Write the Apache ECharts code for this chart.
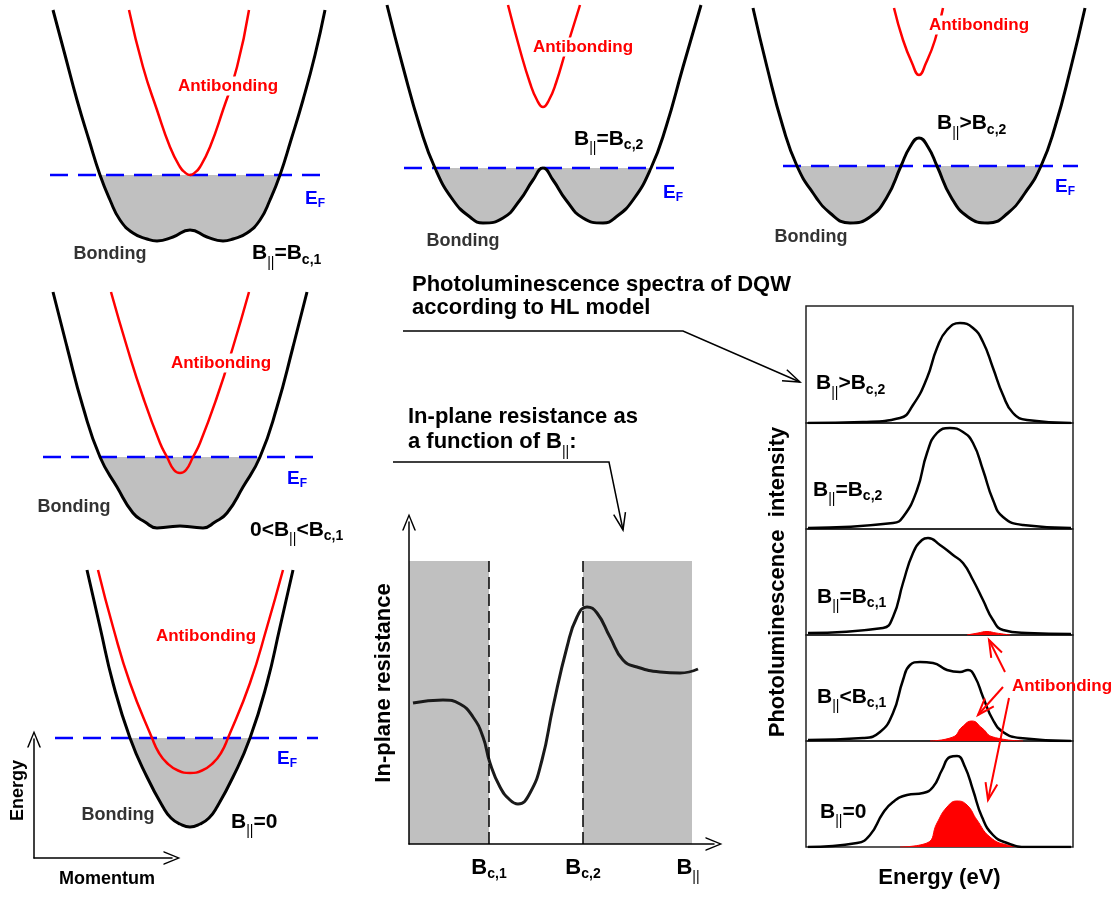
<!DOCTYPE html>
<html>
<head>
<meta charset="utf-8">
<title>Bilayer bands, in-plane resistance and PL spectra</title>
<script src="https://cdn.jsdelivr.net/npm/echarts@6.0.0/dist/echarts.min.js"></script>
<style>
  html, body { margin: 0; padding: 0; background: #fff; }
  #chart { width: 1119px; height: 897px; }
</style>
</head>
<body>
<div id="chart"></div>
<script>
// ---------- Band dispersions: [momentum, energy], arbitrary units ----------
const bondingBc1 = [[-1.37,2.50],[-1.25,2.05],[-1.13,1.60],[-1.01,1.20],[-0.90,0.85],[-0.80,0.60],[-0.70,0.40],[-0.57,0.27],[-0.43,0.21],[-0.33,0.19],[-0.17,0.23],[0,0.30],[0.17,0.23],[0.33,0.19],[0.43,0.21],[0.57,0.27],[0.70,0.40],[0.80,0.60],[0.90,0.85],[1.01,1.20],[1.13,1.60],[1.25,2.05],[1.35,2.50]];
const antibondingBc1 = [[-0.61,2.50],[-0.47,1.93],[-0.33,1.50],[-0.20,1.13],[-0.10,0.93],[-0.05,0.875],[0,0.85],[0.05,0.875],[0.10,0.93],[0.20,1.13],[0.33,1.50],[0.47,1.93],[0.59,2.50]];
const fermiBc1 = 0.85;
const fermiSpanBc1 = [-1.40, 1.38];

const bondingBc2 = [[-1.56,2.55],[-1.40,1.93],[-1.23,1.33],[-1.08,0.92],[-0.90,0.60],[-0.73,0.43],[-0.60,0.37],[-0.40,0.42],[-0.23,0.60],[-0.10,0.80],[0,0.92],[0.10,0.80],[0.23,0.60],[0.40,0.42],[0.60,0.37],[0.73,0.43],[0.90,0.60],[1.08,0.92],[1.23,1.33],[1.40,1.93],[1.58,2.55]];
const antibondingBc2 = [[-0.35,2.55],[-0.23,2.10],[-0.13,1.77],[-0.06,1.60],[0,1.53],[0.06,1.60],[0.13,1.77],[0.23,2.10],[0.37,2.55]];
const fermiBc2 = 0.92;
const fermiSpanBc2 = [-1.39, 1.40];

const bondingAboveBc2 = [[-1.66,2.52],[-1.52,1.93],[-1.36,1.33],[-1.22,0.94],[-1.06,0.67],[-0.89,0.47],[-0.69,0.37],[-0.49,0.43],[-0.32,0.63],[-0.18,0.94],[-0.09,1.13],[0,1.22],[0.09,1.13],[0.18,0.94],[0.32,0.63],[0.49,0.43],[0.69,0.37],[0.89,0.47],[1.06,0.67],[1.22,0.94],[1.36,1.33],[1.52,1.93],[1.66,2.52]];
const antibondingAboveBc2 = [[-0.25,2.52],[-0.16,2.20],[-0.07,1.97],[0,1.85],[0.07,1.97],[0.16,2.20],[0.24,2.52]];
const fermiAboveBc2 = 0.94;
const fermiSpanAboveBc2 = [-1.36, 1.59];

const bondingBelowBc1 = [[-1.27,2.48],[-1.13,1.93],[-0.97,1.33],[-0.80,0.83],[-0.63,0.53],[-0.47,0.27],[-0.35,0.18],[-0.23,0.12],[-0.12,0.13],[0,0.14],[0.12,0.13],[0.23,0.12],[0.35,0.18],[0.47,0.27],[0.63,0.53],[0.80,0.83],[0.97,1.33],[1.13,1.93],[1.27,2.48]];
const antibondingBelowBc1 = [[-0.69,2.48],[-0.53,1.93],[-0.37,1.43],[-0.20,0.97],[-0.13,0.83],[-0.06,0.70],[0,0.67],[0.06,0.70],[0.13,0.83],[0.20,0.97],[0.37,1.43],[0.53,1.93],[0.69,2.48]];
const fermiBelowBc1 = 0.83;
const fermiSpanBelowBc1 = [-1.37, 1.43];

const bondingZero = [[-1.03,2.70],[-0.90,2.13],[-0.77,1.57],[-0.60,1.02],[-0.43,0.63],[-0.27,0.33],[-0.19,0.22],[-0.10,0.16],[0,0.13],[0.10,0.16],[0.19,0.22],[0.27,0.33],[0.43,0.63],[0.60,1.02],[0.77,1.57],[0.90,2.13],[1.03,2.70]];
const antibondingZero = [[-0.92,2.70],[-0.77,2.13],[-0.60,1.57],[-0.38,1.02],[-0.31,0.87],[-0.23,0.77],[-0.12,0.695],[0,0.67],[0.12,0.695],[0.23,0.77],[0.31,0.87],[0.38,1.02],[0.60,1.57],[0.77,2.13],[0.93,2.70]];
const fermiZero = 1.02;
const fermiSpanZero = [-1.35, 1.28];

// ---------- In-plane resistance vs parallel field: [B, R] ----------
const resistance = [[0.04,1.41],[0.34,1.44],[0.51,1.40],[0.64,1.27],[0.74,1.07],[0.81,0.81],[0.91,0.57],[1.01,0.44],[1.09,0.40],[1.21,0.51],[1.33,0.84],[1.44,1.37],[1.58,1.97],[1.68,2.27],[1.78,2.37],[1.88,2.31],[2.01,2.07],[2.14,1.84],[2.28,1.77],[2.51,1.72],[2.71,1.71],[2.89,1.75]];
const criticalFields = [0.80, 1.74];
const shadedFieldRanges = [[0, 0.80], [1.74, 2.83]];
const shadeTop = 2.83;
const fieldTickValues = [0.80, 1.74, 2.79];
const fieldTickLabels = ['{b|B}{s|c,1}', '{b|B}{s|c,2}', '{b|B}{p|||}'];

// ---------- PL spectra: [energy, intensity], arbitrary units ----------
const plAboveBc2 = [[0.02,0.00],[0.57,0.01],[0.94,0.05],[1.07,0.18],[1.21,0.45],[1.31,0.75],[1.41,0.93],[1.54,1.00],[1.67,0.95],[1.77,0.81],[1.87,0.55],[1.97,0.28],[2.07,0.10],[2.21,0.03],[2.65,0.00]];
const plAtBc2 = [[0.02,0.01],[0.87,0.06],[0.97,0.12],[1.11,0.39],[1.21,0.76],[1.31,0.96],[1.44,1.01],[1.57,0.97],[1.67,0.86],[1.77,0.59],[1.87,0.29],[1.97,0.12],[2.17,0.04],[2.65,0.01]];
const plAtBc1 = [[0.02,0.02],[0.77,0.07],[0.87,0.18],[0.97,0.52],[1.07,0.82],[1.16,0.95],[1.22,0.97],[1.34,0.90],[1.47,0.80],[1.57,0.72],[1.67,0.55],[1.77,0.35],[1.87,0.15],[1.97,0.05],[2.21,0.02],[2.65,0.01]];
const plAtBc1Anti = [[1.61,0],[1.72,0.02],[1.81,0.035],[1.90,0.02],[2.04,0]];
const plBelowBc1 = [[0.02,0.01],[0.57,0.03],[0.74,0.09],[0.87,0.28],[0.97,0.61],[1.04,0.76],[1.14,0.79],[1.27,0.78],[1.41,0.71],[1.54,0.69],[1.62,0.71],[1.69,0.64],[1.77,0.44],[1.87,0.21],[1.97,0.09],[2.14,0.03],[2.65,0.00]];
const plBelowBc1Anti = [[1.24,0],[1.47,0.04],[1.56,0.14],[1.66,0.20],[1.76,0.13],[1.87,0.04],[2.17,0]];
const plZero = [[0.02,0.00],[0.51,0.04],[0.64,0.12],[0.77,0.34],[0.87,0.45],[1.01,0.52],[1.17,0.54],[1.27,0.60],[1.36,0.77],[1.44,0.90],[1.51,0.91],[1.59,0.80],[1.67,0.57],[1.76,0.30],[1.87,0.12],[2.01,0.04],[2.21,0.00],[2.65,0.00]];
const plZeroAnti = [[0.94,0],[1.21,0.04],[1.31,0.24],[1.41,0.40],[1.51,0.46],[1.61,0.42],[1.71,0.27],[1.84,0.10],[2.01,0.02],[2.17,0]];

// ---------- Layout ----------
const FONT = '"Liberation Sans", Arial, Helvetica, sans-serif';
const PX = 100;              // pixels per data unit in the band and PL panels
const K_MAX = 1.8;
const CHEVRON = 'path://M7,0 L14,17 L12.4,17 L7,3.4 L1.6,17 L0,17 Z';

const bands = [
  { bonding: bondingBc1, anti: antibondingBc1, ef: fermiBc1, span: fermiSpanBc1, box: [10, 0, 360, 260] },
  { bonding: bondingBc2, anti: antibondingBc2, ef: fermiBc2, span: fermiSpanBc2, box: [363, 0, 360, 260] },
  { bonding: bondingAboveBc2, anti: antibondingAboveBc2, ef: fermiAboveBc2, span: fermiSpanAboveBc2, box: [739, 0, 360, 260] },
  { bonding: bondingBelowBc1, anti: antibondingBelowBc1, ef: fermiBelowBc1, span: fermiSpanBelowBc1, box: [0, 280, 360, 260] },
  { bonding: bondingZero, anti: antibondingZero, ef: fermiZero, span: fermiSpanZero, box: [10, 560, 360, 280] }
];

const plPanels = [
  { line: plAboveBc2, anti: null, top: 306, height: 117 },
  { line: plAtBc2, anti: null, top: 423, height: 106 },
  { line: plAtBc1, anti: plAtBc1Anti, top: 529, height: 106 },
  { line: plBelowBc1, anti: plBelowBc1Anti, top: 635, height: 106 },
  { line: plZero, anti: plZeroAnti, top: 741, height: 106 }
];

const grid = [], xAxis = [], yAxis = [], series = [];
const hiddenAxis = { show: false };
function addGrid(g, xr, yr, xExtra, yExtra) {
  const idx = grid.length;
  grid.push(Object.assign({ containLabel: false }, g));
  xAxis.push(Object.assign({ type: 'value', gridIndex: idx, min: xr[0], max: xr[1] }, hiddenAxis, xExtra || {}));
  yAxis.push(Object.assign({ type: 'value', gridIndex: idx, min: yr[0], max: yr[1] }, hiddenAxis, yExtra || {}));
  return idx;
}
const nameStyle = (size, pad) => ({ fontFamily: FONT, fontWeight: 'bold', fontSize: size, color: '#000', padding: pad || 0 });
const bareAxis = { show: true, axisLine: { show: false }, axisTick: { show: false }, axisLabel: { show: false }, splitLine: { show: false } };

// Band panels: occupied states shaded below the Fermi level
bands.forEach((b) => {
  const [l, t, w, h] = b.box;
  const g = addGrid({ left: l, top: t, width: w, height: h }, [-K_MAX, K_MAX], [0, h / PX]);
  const fh = b.ef * PX;
  const gf = addGrid({ left: l, top: t + h - fh, width: w, height: fh }, [-K_MAX, K_MAX], [0, b.ef]);
  series.push({
    type: 'line', xAxisIndex: gf, yAxisIndex: gf, data: b.bonding, smooth: true, symbol: 'none',
    lineStyle: { width: 0, opacity: 0 }, areaStyle: { color: '#c0c0c0', opacity: 1, origin: 'end' },
    clip: true, silent: true, z: 1
  });
  series.push({
    type: 'line', xAxisIndex: g, yAxisIndex: g, data: [[b.span[0], b.ef], [b.span[1], b.ef]], symbol: 'none',
    lineStyle: { color: '#0000ff', width: 2.5, type: [18, 10] }, clip: false, silent: true, z: 2
  });
  series.push({
    type: 'line', xAxisIndex: g, yAxisIndex: g, data: b.bonding, smooth: true, symbol: 'none',
    lineStyle: { color: '#000', width: 3 }, clip: false, silent: true, z: 3
  });
  series.push({
    type: 'line', xAxisIndex: g, yAxisIndex: g, data: b.anti, smooth: true, symbol: 'none',
    lineStyle: { color: '#ff0000', width: 2.5 }, clip: false, silent: true, z: 4
  });
});

// Energy / momentum reference axes
addGrid({ left: 34, top: 739, width: 138, height: 119 }, [0, 1], [0, 1],
  { show: true, axisLine: { show: true, symbol: ['none', CHEVRON], symbolSize: [14, 17], lineStyle: { color: '#000', width: 1.5 } },
    axisTick: { show: false }, axisLabel: { show: false }, splitLine: { show: false },
    name: 'Momentum', nameLocation: 'middle', nameGap: 12, nameTextStyle: nameStyle(18, [0, 0, 0, 8]) },
  { show: true, axisLine: { show: true, symbol: ['none', CHEVRON], symbolSize: [14, 17], lineStyle: { color: '#000', width: 1.5 } },
    axisTick: { show: false }, axisLabel: { show: false }, splitLine: { show: false },
    name: 'Energy', nameLocation: 'middle', nameGap: 7, nameRotate: 90, nameTextStyle: nameStyle(18, [0, 0, 0, 16]) });

// In-plane resistance
const gr = addGrid({ left: 409, top: 522, width: 305, height: 322 }, [0, 3.05], [0, 3.22],
  { show: true, z: 10,
    axisLine: { show: true, symbol: ['none', CHEVRON], symbolSize: [14, 17], lineStyle: { color: '#000', width: 1.5 } },
    axisTick: { show: false }, splitLine: { show: false },
    axisLabel: {
      show: true, customValues: fieldTickValues, margin: 13,
      formatter: (v) => fieldTickLabels[fieldTickValues.indexOf(v)],
      rich: {
        b: { fontFamily: FONT, fontWeight: 'bold', fontSize: 22, lineHeight: 22, color: '#000', verticalAlign: 'top' },
        s: { fontFamily: FONT, fontWeight: 'bold', fontSize: 14, lineHeight: 14, color: '#000', verticalAlign: 'top', padding: [10, 0, 0, 0] },
        p: { fontFamily: FONT, fontWeight: 'normal', fontSize: 14, lineHeight: 14, color: '#000', verticalAlign: 'top', padding: [13, 0, 0, 0] }
      }
    } },
  { show: true, z: 10,
    axisLine: { show: true, symbol: ['none', CHEVRON], symbolSize: [14, 17], lineStyle: { color: '#000', width: 1.5 } },
    axisTick: { show: false }, axisLabel: { show: false }, splitLine: { show: false },
    name: 'In-plane resistance', nameLocation: 'middle', nameGap: 14, nameRotate: 90, nameTextStyle: nameStyle(22) });
series.push({
  type: 'line', xAxisIndex: gr, yAxisIndex: gr, data: [], silent: true, z: 0,
  markArea: { silent: true, itemStyle: { color: '#c0c0c0' },
    data: shadedFieldRanges.map(r => [{ coord: [r[0], 0] }, { coord: [r[1], shadeTop] }]) }
});
series.push({
  type: 'line', xAxisIndex: gr, yAxisIndex: gr, data: [], silent: true, z: 1,
  markLine: { silent: true, symbol: 'none', label: { show: false },
    lineStyle: { color: '#000', width: 1.5, type: [12, 5] },
    data: criticalFields.map(v => [{ coord: [v, 0] }, { coord: [v, shadeTop] }]) }
});
series.push({
  type: 'line', xAxisIndex: gr, yAxisIndex: gr, data: resistance, smooth: true, symbol: 'none',
  lineStyle: { color: '#1a1a1a', width: 3 }, clip: false, silent: true, z: 3
});

// Photoluminescence spectra, stacked
plPanels.forEach((p, i) => {
  const yExtra = i === 2 ? Object.assign({}, bareAxis, { name: 'Photoluminescence  intensity', nameLocation: 'middle', nameGap: 17, nameRotate: 90, nameTextStyle: nameStyle(22) }) : null;
  const xExtra = i === 4 ? Object.assign({}, bareAxis, { name: 'Energy (eV)', nameLocation: 'middle', nameGap: 20, nameTextStyle: nameStyle(22) }) : null;
  const g = addGrid({ left: 806, top: p.top, width: 267, height: p.height, show: true, borderColor: '#222', borderWidth: 1.5, backgroundColor: 'transparent' },
    [0, 2.67], [0, p.height / PX], xExtra, yExtra);
  if (p.anti) {
    series.push({
      type: 'line', xAxisIndex: g, yAxisIndex: g, data: p.anti, smooth: true, symbol: 'none',
      lineStyle: { color: '#ff0000', width: 1 }, areaStyle: { color: '#ff0000', opacity: 1 }, silent: true, z: 2
    });
  }
  series.push({
    type: 'line', xAxisIndex: g, yAxisIndex: g, data: p.line, smooth: true, symbol: 'none',
    lineStyle: { color: '#000', width: 2.5 }, silent: true, z: 3
  });
});

// ---------- Text and pointers ----------
function richStyle(fs, ss, color) {
  const base = { fontFamily: FONT, fontWeight: 'bold', fill: color, verticalAlign: 'top' };
  return {
    b: Object.assign({}, base, { fontSize: fs, lineHeight: fs }),
    s: Object.assign({}, base, { fontSize: ss, lineHeight: ss, padding: [Math.round(0.85 * (fs - ss) + 4), 0, 0, 0] }),
    f: Object.assign({}, base, { fontSize: ss, lineHeight: ss, padding: [Math.round(0.85 * (fs - ss) + 3), 0, 0, 0] }),
    p: Object.assign({}, base, { fontWeight: 'normal', fontSize: ss, lineHeight: ss, padding: [Math.round(0.85 * (fs - ss) + 7), 0, 0, 0] })
  };
}
function richText(left, capCenter, markup, fs, ss, color) {
  return { type: 'text', x: left, y: capCenter - fs / 2, z: 100, silent: true,
    style: { text: markup, align: 'left', verticalAlign: 'top', rich: richStyle(fs, ss, color),
      fontFamily: FONT, fontWeight: 'bold', fontSize: fs, fill: color } };
}
function plainText(cx, cy, text, fs, color, bg) {
  return { type: 'text', x: cx, y: cy, z: 100, silent: true,
    style: { text: text, align: 'center', verticalAlign: 'middle', fontFamily: FONT, fontSize: fs,
      fontWeight: 'bold', fill: color, backgroundColor: bg || 'transparent', padding: bg ? [1, 3] : 0 } };
}
function arrow(points, color, width) {
  const n = points.length, tip = points[n - 1], prev = points[n - 2];
  const dx = tip[0] - prev[0], dy = tip[1] - prev[1], L = Math.hypot(dx, dy);
  const ux = dx / L, uy = dy / L, len = 17, half = 6;
  const bx = tip[0] - ux * len, by = tip[1] - uy * len;
  const st = { stroke: color, lineWidth: width, fill: null };
  return [
    { type: 'polyline', z: 90, silent: true, shape: { points: points }, style: st },
    { type: 'polyline', z: 90, silent: true, shape: { points: [[bx - uy * half, by + ux * half], tip, [bx + uy * half, by - ux * half]] }, style: st }
  ];
}

const RED = '#ff0000', BLUE = '#0000ff', DARK = '#333';
const graphic = [
  // band panel captions
  plainText(228, 86, 'Antibonding', 17, RED, '#fff'),
  plainText(583, 47, 'Antibonding', 17, RED, '#fff'),
  plainText(979, 25, 'Antibonding', 17, RED, '#fff'),
  plainText(221, 363, 'Antibonding', 17, RED, '#fff'),
  plainText(206, 636, 'Antibonding', 17, RED, null),
  plainText(110, 254, 'Bonding', 18, DARK),
  plainText(463, 241, 'Bonding', 18, DARK),
  plainText(811, 237, 'Bonding', 18, DARK),
  plainText(74, 507, 'Bonding', 18, DARK),
  plainText(118, 815, 'Bonding', 18, DARK),
  richText(305, 198.5, '{b|E}{f|F}', 19, 12, BLUE),
  richText(663, 192.5, '{b|E}{f|F}', 19, 12, BLUE),
  richText(1055, 186.5, '{b|E}{f|F}', 19, 12, BLUE),
  richText(287, 478.5, '{b|E}{f|F}', 19, 12, BLUE),
  richText(277, 758.5, '{b|E}{f|F}', 19, 12, BLUE),
  richText(252, 253.5, '{b|B}{p|||}{b|=B}{s|c,1}', 21, 14, '#000'),
  richText(574, 139, '{b|B}{p|||}{b|=B}{s|c,2}', 21, 14, '#000'),
  richText(937, 123.5, '{b|B}{p|||}{b|>B}{s|c,2}', 21, 14, '#000'),
  richText(250, 530, '{b|0<B}{p|||}{b|<B}{s|c,1}', 21, 14, '#000'),
  richText(231, 822, '{b|B}{p|||}{b|=0}', 21, 14, '#000'),
  // PL panel captions
  richText(816, 383.5, '{b|B}{p|||}{b|>B}{s|c,2}', 21, 14, '#000'),
  richText(813, 490, '{b|B}{p|||}{b|=B}{s|c,2}', 21, 14, '#000'),
  richText(817, 597, '{b|B}{p|||}{b|=B}{s|c,1}', 21, 14, '#000'),
  richText(817, 697, '{b|B}{p|||}{b|<B}{s|c,1}', 21, 14, '#000'),
  richText(820, 812, '{b|B}{p|||}{b|=0}', 21, 14, '#000'),
  plainText(1062, 686, 'Antibonding', 17, RED, null),
  // annotations
  richText(412, 285, '{b|Photoluminescence spectra of DQW}', 22, 14, '#000'),
  richText(412, 308, '{b|according to HL model}', 22, 14, '#000'),
  richText(408, 416.5, '{b|In-plane resistance as}', 22, 14, '#000'),
  richText(408, 442, '{b|a function of B}{p|||}{b|:}', 22, 14, '#000')
].concat(
  arrow([[403, 331], [683, 331], [800, 382]], '#000', 1.5),
  arrow([[393, 462], [609, 462], [623, 530]], '#000', 1.5),
  arrow([[1005, 672], [989, 640]], RED, 2),
  arrow([[1003, 687], [978, 715]], RED, 2),
  arrow([[1009, 698], [988, 800]], RED, 2)
);

const chart = echarts.init(document.getElementById('chart'), null, { renderer: 'canvas' });
chart.setOption({
  backgroundColor: '#fff',
  animation: false,
  grid: grid,
  xAxis: xAxis,
  yAxis: yAxis,
  series: series,
  graphic: graphic
});
</script>
</body>
</html>
